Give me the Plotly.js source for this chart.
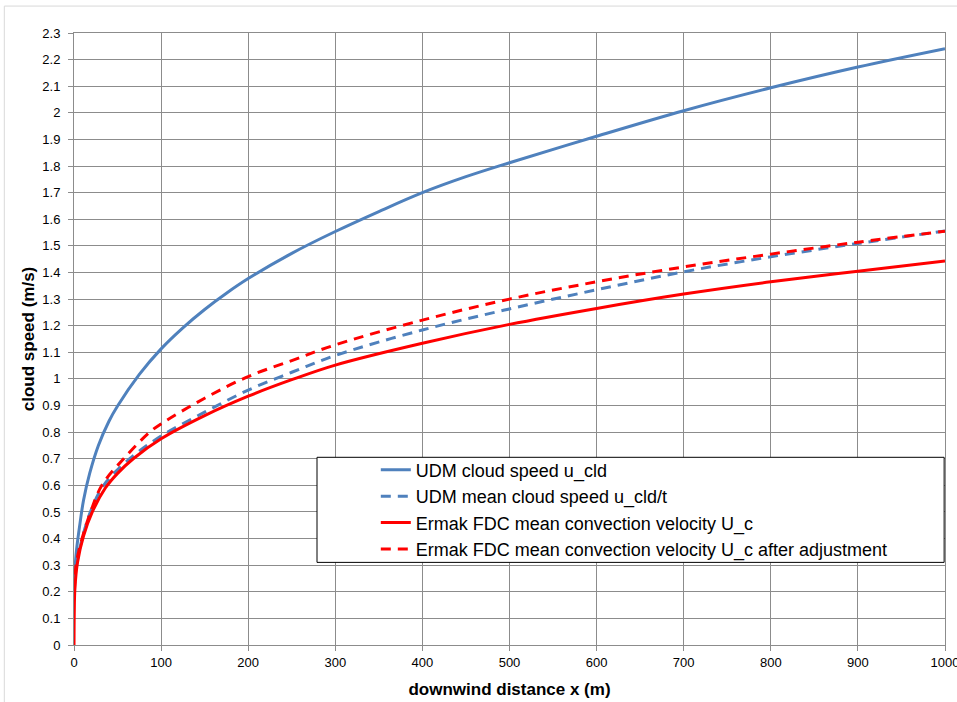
<!DOCTYPE html>
<html>
<head>
<meta charset="utf-8">
<script src="https://cdn.plot.ly/plotly-3.0.1.min.js"></script>
<style>
  html, body { margin: 0; padding: 0; background: #ffffff; }
  #chart { width: 957px; height: 702px; }
</style>
</head>
<body>
<div id="chart"></div>
<script>
// Downwind distance (m) and cloud speed (m/s) for each model curve
const udmSpeedX = [0.3, 3, 7, 11, 18, 28, 40, 50, 75, 100, 125, 150, 175, 200, 250, 300, 350, 400, 450, 500, 600, 700, 800, 900, 1000];
const udmSpeedY = [0.25, 0.36, 0.46, 0.545, 0.645, 0.75, 0.84, 0.898, 1.017, 1.113, 1.192, 1.261, 1.322, 1.377, 1.472, 1.554, 1.629, 1.70, 1.76, 1.8125, 1.912, 2.008, 2.094, 2.172, 2.241];

const udmMeanX = [0.5, 4, 11, 20, 34, 64, 100, 150, 200, 250, 300, 400, 500, 600, 700, 800, 900, 1000];
const udmMeanY = [0.23, 0.32, 0.42, 0.51, 0.60, 0.70, 0.785, 0.875, 0.958, 1.025, 1.088, 1.184, 1.263, 1.335, 1.4025, 1.459, 1.509, 1.556];

const ermakX = [0, 0.3, 1, 4, 11, 21, 36, 50, 68, 100, 150, 200, 250, 300, 400, 500, 600, 700, 800, 900, 1000];
const ermakY = [0, 0.12, 0.21, 0.31, 0.41, 0.50, 0.59, 0.645, 0.70, 0.775, 0.862, 0.935, 0.997, 1.052, 1.134, 1.205, 1.265, 1.319, 1.365, 1.405, 1.443];

const ermakAdjX = [0.5, 2, 6, 12, 18, 32, 57, 87, 100, 150, 200, 250, 300, 400, 500, 600, 700, 800, 900, 1000];
const ermakAdjY = [0.2, 0.29, 0.36, 0.43, 0.49, 0.60, 0.70, 0.80, 0.831, 0.9275, 1.009, 1.069, 1.128, 1.221, 1.30, 1.365, 1.421, 1.469, 1.514, 1.555];

const seriesNames = [
  'UDM cloud speed u_cld',
  'UDM mean cloud speed u_cld/t',
  'Ermak FDC mean convection velocity U_c',
  'Ermak FDC mean convection velocity U_c after adjustment'
];

const BLUE = '#4F81BD';
const RED = '#FF0000';
const GRID = '#8C8C8C';
const FONT = 'Liberation Sans, Arial, sans-serif';

const traces = [
  { x: udmSpeedX, y: udmSpeedY, name: seriesNames[0], mode: 'lines',
    line: { color: BLUE, width: 3, shape: 'spline', smoothing: 1 } },
  { x: udmMeanX, y: udmMeanY, name: seriesNames[1], mode: 'lines',
    line: { color: BLUE, width: 3, dash: '10px,7px', shape: 'spline', smoothing: 1 } },
  { x: ermakX, y: ermakY, name: seriesNames[2], mode: 'lines',
    line: { color: RED, width: 3, shape: 'spline', smoothing: 1 } },
  { x: ermakAdjX, y: ermakAdjY, name: seriesNames[3], mode: 'lines',
    line: { color: RED, width: 3, dash: '10px,7px', shape: 'spline', smoothing: 1 } }
];

const layout = {
  width: 957,
  height: 702,
  margin: { l: 74, r: 12, t: 33, b: 57 },
  paper_bgcolor: '#ffffff',
  plot_bgcolor: '#ffffff',
  font: { family: FONT, color: '#000000', size: 13 },
  showlegend: true,
  legend: {
    x: 0.3465, xanchor: 'left',
    y: 0.316, yanchor: 'top',
    bgcolor: 'rgba(0,0,0,0)',
    borderwidth: 0,
    font: { family: FONT, size: 18, color: '#000000' },
    tracegroupgap: 0
  },
  xaxis: {
    range: [0, 1000],
    dtick: 100,
    tick0: 0,
    showgrid: true,
    gridcolor: GRID,
    gridwidth: 1,
    zeroline: false,
    showline: true,
    linecolor: GRID,
    linewidth: 1,
    mirror: true,
    ticks: 'outside',
    ticklen: 5,
    tickcolor: GRID,
    ticklabeloverflow: 'allow',
    tickfont: { family: FONT, size: 13, color: '#000000' },
    title: { text: 'downwind distance x (m)', font: { family: FONT, size: 17, color: '#000000', weight: 'bold' }, standoff: 14 },
    fixedrange: true
  },
  yaxis: {
    range: [0, 2.3],
    dtick: 0.1,
    tick0: 0,
    showgrid: true,
    gridcolor: GRID,
    gridwidth: 1,
    zeroline: false,
    showline: true,
    linecolor: GRID,
    linewidth: 1,
    mirror: true,
    ticks: 'outside',
    ticklen: 5,
    ticklabelstandoff: 5,
    tickcolor: GRID,
    tickfont: { family: FONT, size: 13, color: '#000000' },
    title: { text: 'cloud speed (m/s)', font: { family: FONT, size: 17, color: '#000000', weight: 'bold' }, standoff: 3 },
    fixedrange: true
  },
  shapes: [
    // legend frame
    { type: 'rect', xref: 'paper', yref: 'paper', x0: 0.279, x1: 0.999, y0: 0.135, y1: 0.3067,
      line: { color: '#000000', width: 1 }, fillcolor: '#ffffff', layer: 'above' },
    // outer chart frame
    { type: 'rect', xref: 'paper', yref: 'paper', x0: -0.080, x1: 1.2, y0: -0.3, y1: 1.044,
      line: { color: '#D9D9D9', width: 1 }, fillcolor: 'rgba(0,0,0,0)', layer: 'below' }
  ]
};

Plotly.newPlot('chart', traces, layout, { displayModeBar: false, staticPlot: true });
</script>
</body>
</html>
